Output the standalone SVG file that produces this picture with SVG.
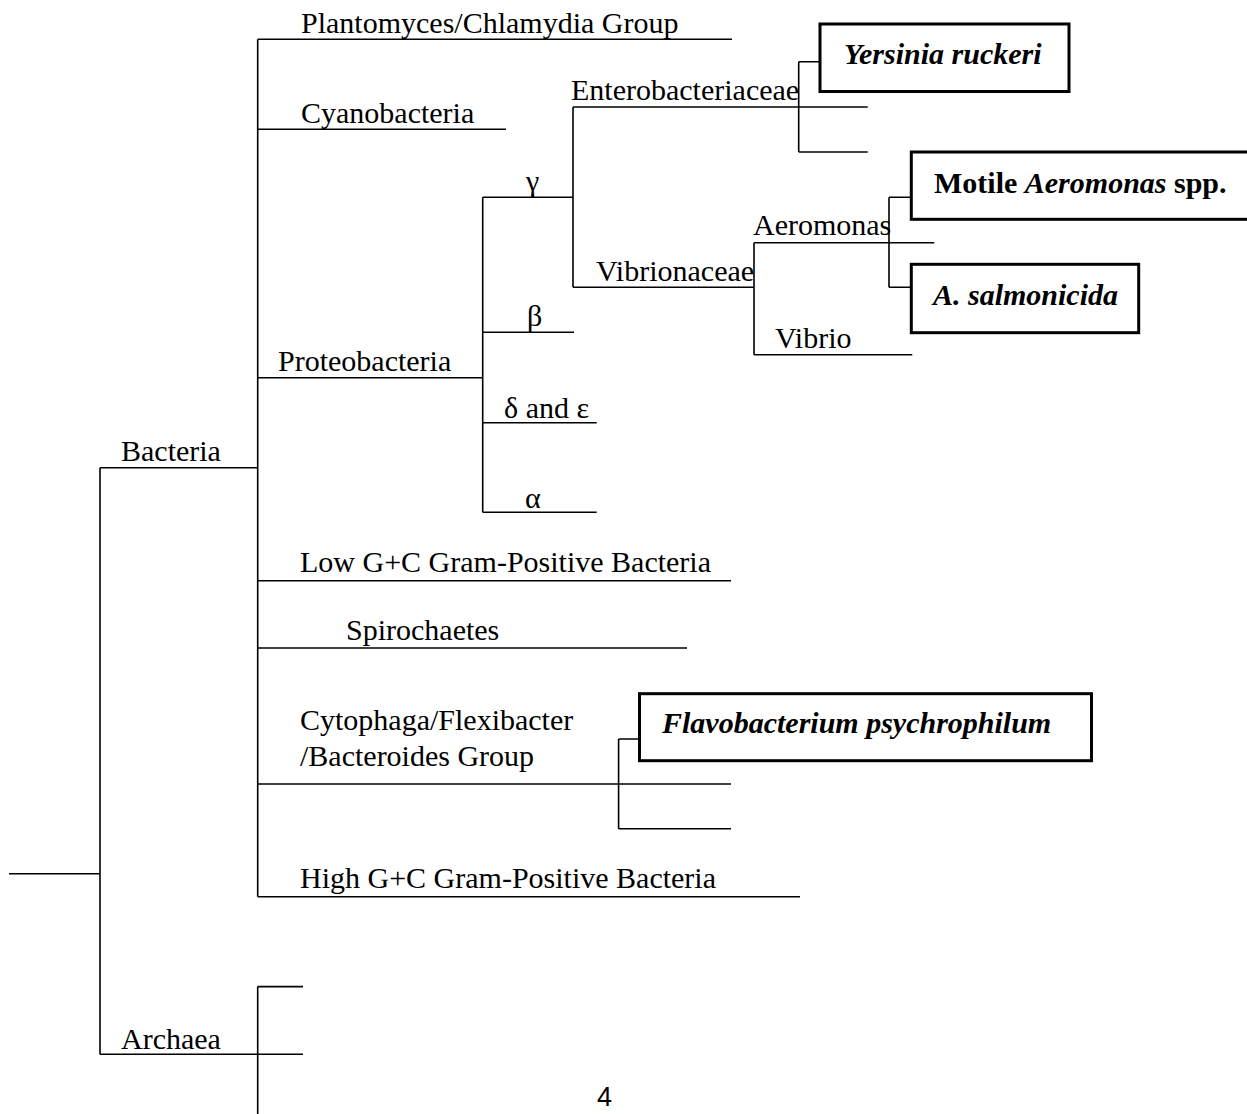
<svg xmlns="http://www.w3.org/2000/svg" width="1247" height="1114" viewBox="0 0 1247 1114">
<style>
text{font-family:"Liberation Serif","Times New Roman",serif;font-size:30px;fill:#000}
.bi{font-weight:bold;font-style:italic}
.b{font-weight:bold}
.i{font-style:italic}
.ln{stroke:#000;stroke-width:1.6;fill:none}
.box{stroke:#000;stroke-width:3;fill:#fff}
.pg{font-family:"Liberation Sans",Arial,sans-serif;font-size:27px}
</style>
<rect width="1247" height="1114" fill="#fff"/>
<g id="connectors" class="ln">
<path d="M9 873.7H100M100 467.7V1054.3M100 467.7H257.7M100 1054.3H303"/>
<path d="M257.7 986.6H303M257.7 986.6V1114"/>
<path d="M257.7 39.3V896.7M257.7 39.3H732M257.7 129.3H506M257.7 377.7H482.7M257.7 580.7H731M257.7 648H687M257.7 784H731M257.7 896.7H800"/>
<path d="M482.7 197.3V512.3M482.7 197.3H573M482.7 332.3H574M482.7 422.7H596.7M482.7 512.3H596.7"/>
<path d="M573 107V287.3M573 107H867.7M573 287.3H754"/>
<path d="M798.7 61.7V152M798.7 61.7H820M798.7 152H867.7"/>
<path d="M754 242.7V354.7M754 242.7H934.3M754 354.7H912.3"/>
<path d="M889 197.3V287.3M889 197.3H911M889 287.3H911"/>
<path d="M618.6 739V828.7M618.6 739H640M618.6 828.7H731"/>
</g>
<g id="root"><text x="121" y="461">Bacteria</text></g>
<g id="archaea"><text x="121" y="1049">Archaea</text></g>
<g id="plantomyces"><text x="301" y="33">Plantomyces/Chlamydia Group</text></g>
<g id="cyanobacteria"><text x="301" y="123">Cyanobacteria</text></g>
<g id="proteobacteria"><text x="278" y="371">Proteobacteria</text></g>
<g id="gamma"><text x="526" y="191">γ</text></g>
<g id="beta"><text x="527" y="326">β</text></g>
<g id="delta"><text x="504" y="418">δ and ε</text></g>
<g id="alpha"><text x="525" y="508">α</text></g>
<g id="enterobacteriaceae"><text x="571" y="100">Enterobacteriaceae</text></g>
<g id="vibrionaceae"><text x="596" y="281">Vibrionaceae</text></g>
<g id="aeromonas"><text x="753" y="235">Aeromonas</text></g>
<g id="vibrio"><text x="775" y="348">Vibrio</text></g>
<g id="yersinia"><rect class="box" x="820" y="24" width="249" height="67.5"/><text class="bi" x="844" y="64">Yersinia ruckeri</text></g>
<g id="motile"><rect class="box" x="911.3" y="152" width="345" height="67.3"/><text class="b" x="934" y="193">Motile <tspan class="i">Aeromonas</tspan> spp.</text></g>
<g id="salmonicida"><rect class="box" x="911.3" y="264.3" width="227.4" height="68.4"/><text class="bi" x="933" y="305">A. salmonicida</text></g>
<g id="lowgc"><text x="300" y="572">Low G+C Gram-Positive Bacteria</text></g>
<g id="spirochaetes"><text x="346" y="640">Spirochaetes</text></g>
<g id="cytophaga"><text x="300" y="730">Cytophaga/Flexibacter</text><text x="300" y="766">/Bacteroides Group</text></g>
<g id="flavobacterium"><rect class="box" x="639.5" y="693.7" width="452" height="67"/><text class="bi" x="662" y="733">Flavobacterium psychrophilum</text></g>
<g id="highgc"><text x="300" y="888">High G+C Gram-Positive Bacteria</text></g>
<g id="page"><text class="pg" x="597" y="1106">4</text></g>
</svg>
